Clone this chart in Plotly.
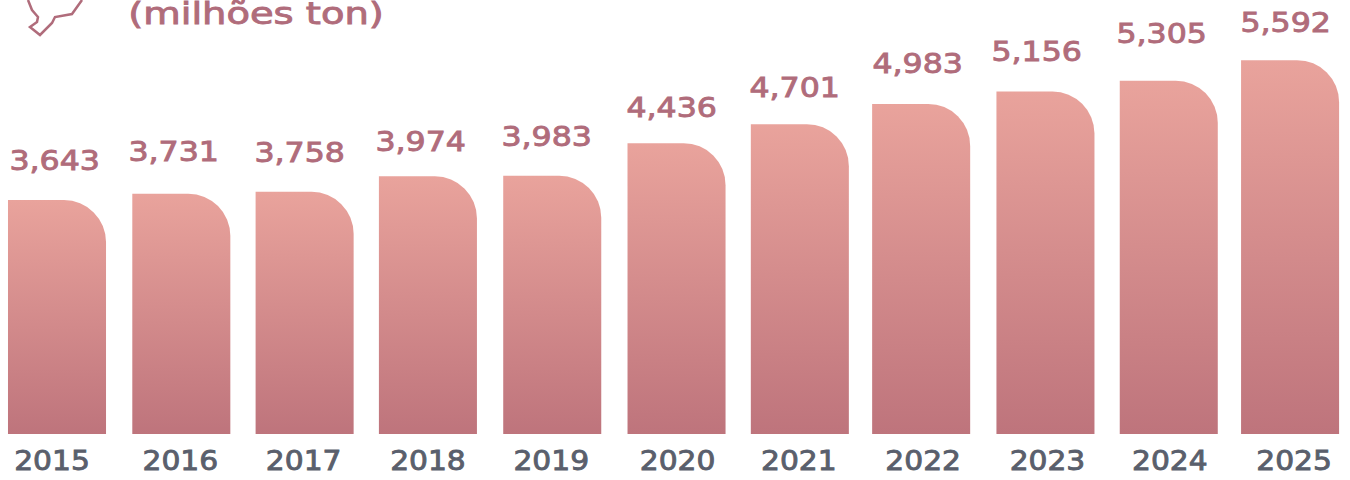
import plotly.graph_objects as go

years = ["2015", "2016", "2017", "2018", "2019", "2020", "2021", "2022", "2023", "2024", "2025"]
values = [3643, 3731, 3758, 3974, 3983, 4436, 4701, 4983, 5156, 5305, 5592]
value_labels = ["3,643", "3,731", "3,758", "3,974", "3,983", "4,436", "4,701", "4,983", "5,156", "5,305", "5,592"]
unit_label = "(milhões ton)"

# Hand-placement quirks of the original, in pixels
bar_nudge = [0, 1, 1, 1, 2, 3, 3, 1, 2, 2, 0]
label_dx = [-3, -7, -4, -6, -4, -2, -2, -3, -7, -5, -5]
label_dy = [40, 42, 39, 35, 39, 36, 37, 40, 40, 47, 38]
year_dx = [-5, 0, 0, 1, 1, 4, 2, 3, 4, 3, 4]

AXIS_FLOOR = 385
AXIS_TOP = 6430
PITCH = 123.3
BAR_WIDTH = 0.795
FONT = "DejaVu Sans"
LABEL_COLOR = "#B06C7B"
YEAR_COLOR = "#5A5F6C"

fig = go.Figure(
    go.Bar(
        x=list(range(len(years))),
        y=[v - AXIS_FLOOR for v in values],
        base=AXIS_FLOOR,
        width=BAR_WIDTH,
        offset=[-BAR_WIDTH / 2 + n / PITCH for n in bar_nudge],
        marker=dict(color="#D48C8C", line=dict(width=0)),
        hovertext=value_labels,
        hoverinfo="text",
    )
)

for i, (v, label) in enumerate(zip(values, value_labels)):
    fig.add_annotation(
        x=i, y=v, text=label, showarrow=False, xshift=label_dx[i], yshift=label_dy[i],
        font=dict(family=FONT, size=27, color=LABEL_COLOR),
    )

fig.add_annotation(
    xref="paper", yref="paper", x=151 / 1350, y=1 - 13 / 434, xanchor="left", yanchor="middle",
    text=unit_label, showarrow=False, font=dict(family=FONT, size=31, color=LABEL_COLOR),
)

icon = [(28, 0), (32, 10), (38, 17), (37, 22), (30, 27), (40, 35), (52, 23), (55, 17), (72, 14), (82, 0)]
icon_path = "M " + " L ".join(f"{px / 1350:.5f},{1 - py / 434:.5f}" for px, py in icon)
fig.add_shape(type="path", xref="paper", yref="paper", path=icon_path,
              line=dict(color=LABEL_COLOR, width=2.5), fillcolor="rgba(0,0,0,0)")

fig.update_layout(
    width=1350, height=480,
    margin=dict(l=0, r=0, t=0, b=46, autoexpand=False),
    paper_bgcolor="white", plot_bgcolor="white",
    showlegend=False,
)
fig.update_xaxes(
    range=[-0.4623, 10.486], tickmode="array",
    tickvals=[i + d / PITCH for i, d in enumerate(year_dx)], ticktext=years,
    showgrid=False, zeroline=False, showline=False, ticks="", ticklabelstandoff=8,
    tickfont=dict(family=FONT, size=27, color=YEAR_COLOR),
)
fig.update_yaxes(range=[AXIS_FLOOR, AXIS_TOP], visible=False)

post_script = r"""
document.body.style.margin = '0';
var gd = document.getElementById('{plot_id}');
var svg = gd.querySelector('.main-svg');
var NS = 'http://www.w3.org/2000/svg';
var grad = document.createElementNS(NS, 'linearGradient');
grad.setAttribute('id', 'barFade');
grad.setAttribute('x1', '0'); grad.setAttribute('y1', '0');
grad.setAttribute('x2', '0'); grad.setAttribute('y2', '1');
[['0', '#E9A39C'], ['1', '#BE747C']].forEach(function (s) {
  var stop = document.createElementNS(NS, 'stop');
  stop.setAttribute('offset', s[0]); stop.setAttribute('stop-color', s[1]);
  grad.appendChild(stop);
});
svg.querySelector('defs').appendChild(grad);
gd.querySelectorAll('.bars .point path').forEach(function (p) {
  var b = p.getBBox();
  var x0 = b.x, x1 = b.x + b.width, top = b.y, bot = b.y + b.height, r = 42;
  p.setAttribute('d', 'M' + x0 + ',' + bot + 'V' + top + 'H' + (x1 - r) +
    'A' + r + ',' + r + ' 0 0 1 ' + x1 + ',' + (top + r) + 'V' + bot + 'Z');
  p.style.fill = 'url(#barFade)';
});
function widen(t, factor, color) {
  t.setAttribute('textLength', t.getComputedTextLength() * factor);
  t.setAttribute('lengthAdjust', 'spacingAndGlyphs');
  t.style.stroke = color;
  t.style.strokeWidth = '0.9px';
}
gd.querySelectorAll('.annotation-text').forEach(function (t) {
  widen(t, t.textContent.indexOf('ton') >= 0 ? 1.24 : 1.17, '#B06C7B');
});
gd.querySelectorAll('.xtick text').forEach(function (t) { widen(t, 1.1, '#5A5F6C'); });
"""
fig.write_html("out.html", post_script=post_script, config={"displayModeBar": False})
